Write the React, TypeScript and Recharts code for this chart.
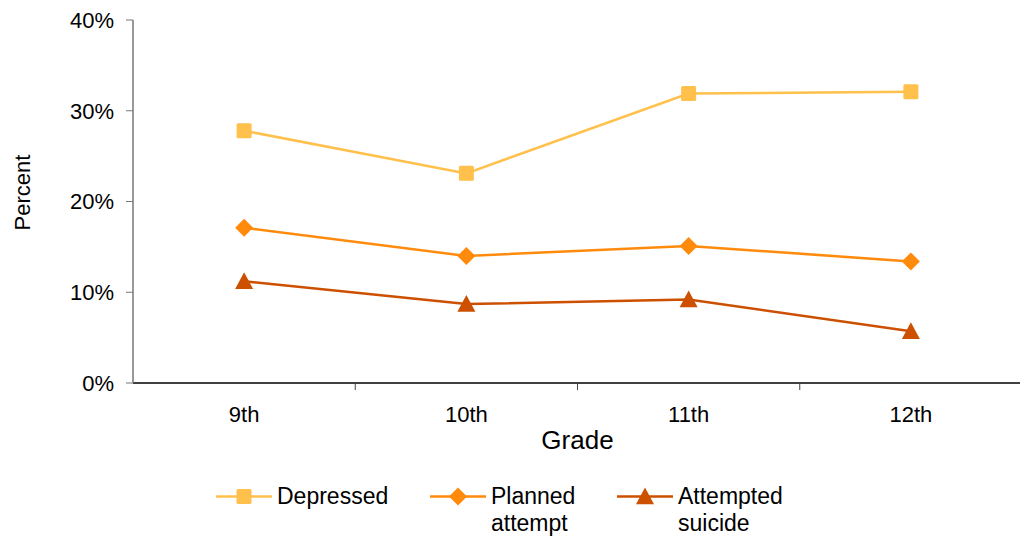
import { LineChart, Line, XAxis, YAxis, Legend, Label } from "recharts";

const grades = ["9th", "10th", "11th", "12th"];
const depressed = [27.8, 23.1, 31.9, 32.1];
const plannedAttempt = [17.1, 14.0, 15.1, 13.4];
const attemptedSuicide = [11.2, 8.7, 9.2, 5.7];
const percentTicks = [0, 10, 20, 30, 40];

const FONT = '"Liberation Sans", Arial, Helvetica, sans-serif';

const COLORS = {
  depressed: "#FFC04C",
  planned: "#FF8A0C",
  attempted: "#CC5000",
};

const data = grades.map((grade, i) => ({
  grade,
  depressed: depressed[i],
  planned: plannedAttempt[i],
  attempted: attemptedSuicide[i],
}));

// recharts hands dots a white fill, so the marker colour comes in as `color`
const SquareDot = ({ cx, cy, color, size = 15 }: any) =>
  cx == null || cy == null ? null : (
    <rect x={cx - size / 2} y={cy - size / 2} width={size} height={size} rx={1.5} fill={color} />
  );

const DiamondDot = ({ cx, cy, color, size = 9 }: any) =>
  cx == null || cy == null ? null : (
    <polygon
      points={`${cx},${cy - size} ${cx + size},${cy} ${cx},${cy + size} ${cx - size},${cy}`}
      fill={color}
    />
  );

const TriangleDot = ({ cx, cy, color, size = 9 }: any) =>
  cx == null || cy == null ? null : (
    <polygon
      points={`${cx},${cy - size} ${cx + size},${cy + size * 0.85} ${cx - size},${cy + size * 0.85}`}
      fill={color}
    />
  );

// category labels centred in each band, tick marks on the band edges
const GradeTick = ({ x, y, payload, index }: any) => {
  const edge = x - (payload.offset ?? 0);
  return (
    <g>
      {index > 0 && <line x1={edge} y1={y} x2={edge} y2={y + 7} stroke="#444" strokeWidth={1} />}
      <text x={x} y={y + 39} textAnchor="middle" fontSize={22} fontFamily={FONT} fill="#000">
        {payload.value}
      </text>
    </g>
  );
};

const PercentLabel = ({ viewBox }: any) => {
  const cy = viewBox.y + viewBox.height / 2 - 9;
  return (
    <text
      x={30}
      y={cy}
      transform={`rotate(-90, 30, ${cy})`}
      textAnchor="middle"
      fontSize={22}
      fontFamily={FONT}
      fill="#000"
    >
      Percent
    </text>
  );
};

const legendItems = [
  { name: "Depressed", color: COLORS.depressed, Dot: SquareDot, left: 216, width: 130 },
  { name: "Planned attempt", color: COLORS.planned, Dot: DiamondDot, left: 430, width: 95 },
  { name: "Attempted suicide", color: COLORS.attempted, Dot: TriangleDot, left: 617, width: 118 },
];

const ChartLegend = () => (
  <div style={{ position: "relative", width: 1020, height: 60, fontFamily: FONT, fontSize: 23 }}>
    {legendItems.map(({ name, color, Dot, left, width }) => (
      <div key={name} style={{ position: "absolute", left, top: 0, display: "flex", alignItems: "flex-start" }}>
        <svg width={56} height={27} style={{ display: "block" }}>
          <line x1={0} y1={13.5} x2={56} y2={13.5} stroke={color} strokeWidth={2.5} />
          <Dot cx={28} cy={13.5} color={color} />
        </svg>
        <div style={{ marginLeft: 5, width, lineHeight: "27px", color: "#000" }}>{name}</div>
      </div>
    ))}
  </div>
);

export default function App() {
  return (
    <div style={{ position: "absolute", left: 0, top: 0, background: "#fff" }}>
      <LineChart width={1022} height={538} data={data} margin={{ top: 20, right: 0, left: 0, bottom: 35 }}>
        <XAxis
          dataKey="grade"
          scale="band"
          height={60}
          tickSize={0}
          tickMargin={0}
          tick={<GradeTick />}
          axisLine={{ stroke: "#000", strokeWidth: 1.5 }}
          tickLine={false}
          interval={0}
        >
          <Label
            content={({ viewBox }: any) => (
              <text
                x={viewBox.x + viewBox.width / 2}
                y={viewBox.y + 66}
                textAnchor="middle"
                fontSize={26}
                fontFamily={FONT}
                fill="#000"
              >
                Grade
              </text>
            )}
          />
        </XAxis>
        <YAxis
          width={133}
          domain={[0, 40]}
          ticks={percentTicks}
          interval={0}
          tickFormatter={(v: number) => `${v}%`}
          tickSize={7}
          tickMargin={12}
          tick={{ fontSize: 22, fontFamily: FONT, fill: "#000" }}
          axisLine={{ stroke: "#777", strokeWidth: 1.5 }}
          tickLine={{ stroke: "#777" }}
        >
          <Label content={<PercentLabel />} />
        </YAxis>
        <Legend verticalAlign="bottom" height={60} wrapperStyle={{ bottom: -5, left: 0 }} content={<ChartLegend />} />
        <Line
          dataKey="depressed"
          name="Depressed"
          stroke={COLORS.depressed}
          strokeWidth={2.5}
          dot={<SquareDot color={COLORS.depressed} />}
          isAnimationActive={false}
        />
        <Line
          dataKey="planned"
          name="Planned attempt"
          stroke={COLORS.planned}
          strokeWidth={2.5}
          dot={<DiamondDot color={COLORS.planned} />}
          isAnimationActive={false}
        />
        <Line
          dataKey="attempted"
          name="Attempted suicide"
          stroke={COLORS.attempted}
          strokeWidth={2.5}
          dot={<TriangleDot color={COLORS.attempted} />}
          isAnimationActive={false}
        />
      </LineChart>
    </div>
  );
}
